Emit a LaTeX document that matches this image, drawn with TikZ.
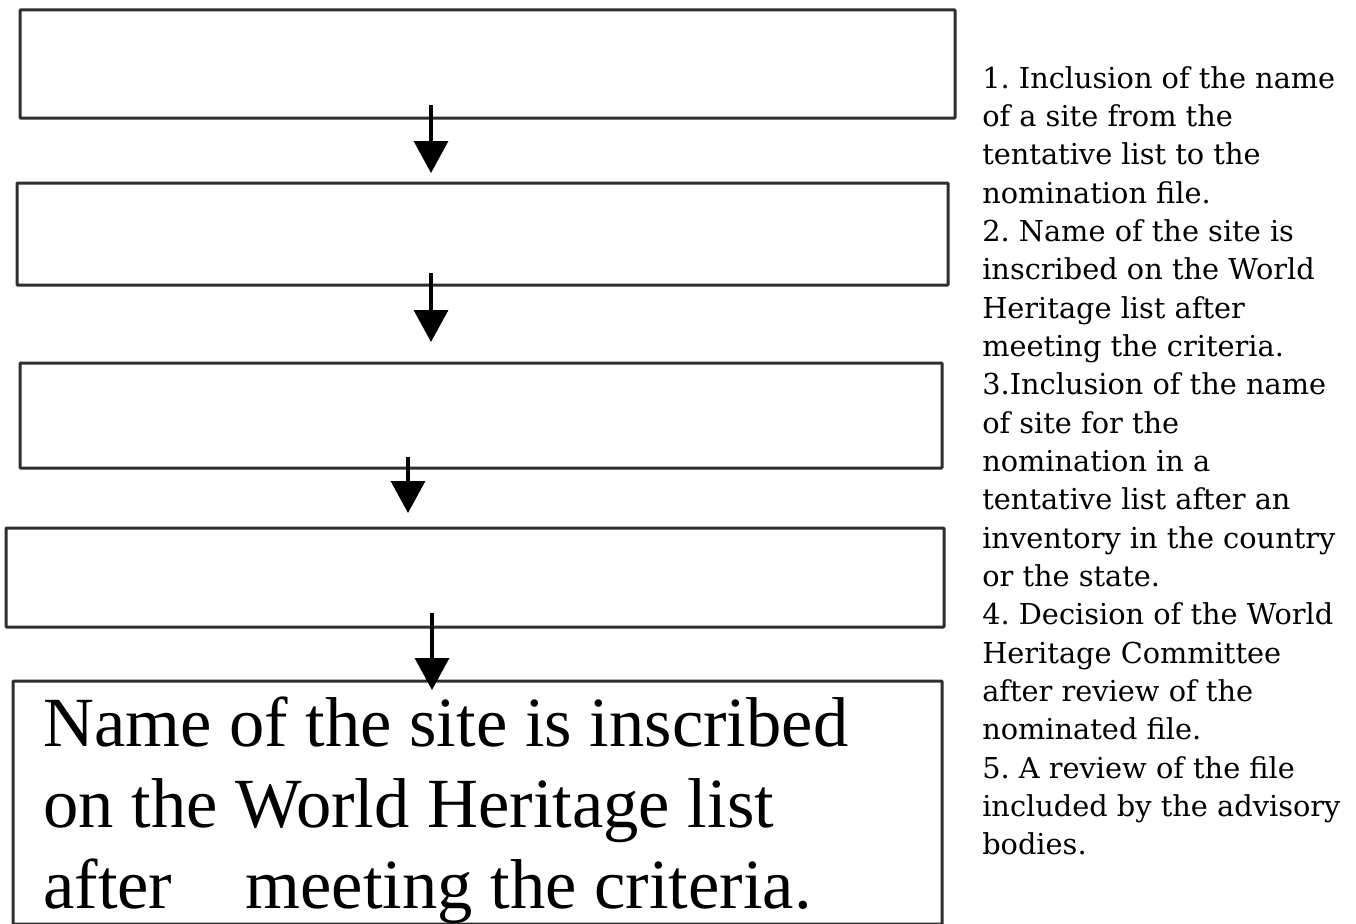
\documentclass[tikz,border=0pt]{standalone}
\usepackage{fontspec}
\setmainfont{Liberation Serif}
\newfontfamily\sidefont{DejaVu Serif}
\usetikzlibrary{arrows.meta}
\frenchspacing
\begin{document}
\begin{tikzpicture}[x=0.75pt,y=-0.75pt,
  stepbox/.style={draw=black!82, line width=2.25pt, rounded corners=0.6pt, inner sep=0pt},
  flow/.style={line width=2.6pt, draw=black, -{Triangle[width=25.5pt,length=24pt]}}]
\useasboundingbox (0,0) rectangle (1356,924);
% boxes
\node[stepbox, minimum width=701.25pt, minimum height=81pt] (b1) at (487.5,64) {};
\node[stepbox, minimum width=698.25pt, minimum height=76.5pt] (b2) at (482.5,234) {};
\node[stepbox, minimum width=691.5pt, minimum height=78.75pt] (b3) at (481,415.5) {};
\node[stepbox, minimum width=703.5pt, minimum height=74.25pt] (b4) at (475,577.5) {};
\node[stepbox, minimum width=696.75pt, minimum height=182.25pt] (b5) at (477.5,802.5) {};
% text of the last box
\node[anchor=north west, inner sep=0pt, align=left,
      font=\fontsize{52.9pt}{60.75pt}\selectfont] (t5) at (43,697)
  {Name of the site is inscribed\\on the World Heritage list\\after\hspace{55pt}meeting the criteria.};
% arrows
\coordinate (a1s) at (431,105); \coordinate (a1e) at (431,173);
\coordinate (a2s) at (431,273); \coordinate (a2e) at (431,342);
\coordinate (a3s) at (408,457); \coordinate (a3e) at (408,513);
\coordinate (a4s) at (432,613); \coordinate (a4e) at (432,690);
\draw[flow] (a1s) -- (a1e);
\draw[flow] (a2s) -- (a2e);
\draw[flow] (a3s) -- (a3e);
\draw[flow] (a4s) -- (a4e);
% side list
\node[anchor=north west, inner sep=0pt, align=left,
      font=\sidefont\fontsize{21.6pt}{28.75pt}\selectfont] (list) at (982,66)
  {1. Inclusion of the name\\of a site from the\\tentative list to the\\nomination file.\\
   2. Name of the site is\\inscribed on the World\\Heritage list after\\meeting the criteria.\\
   3.Inclusion of the name\\of site for the\\nomination in a\\tentative list after an\\inventory in the country\\or the state.\\
   4. Decision of the World\\Heritage Committee\\after review of the\\nominated file.\\
   5. A review of the file\\included by the advisory\\bodies.};
\end{tikzpicture}
\end{document}
